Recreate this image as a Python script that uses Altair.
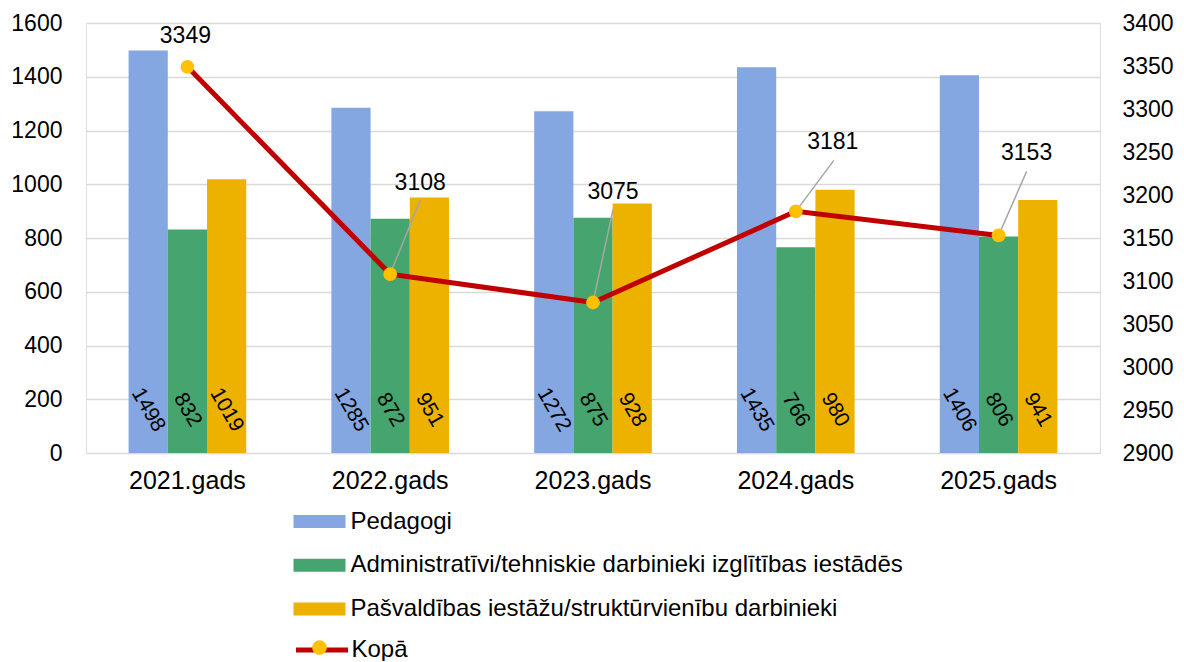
import altair as alt
import pandas as pd

# ---- data ----
years = ["2021.gads", "2022.gads", "2023.gads", "2024.gads", "2025.gads"]
series = [
    "Pedagogi",
    "Administratīvi/tehniskie darbinieki izglītības iestādēs",
    "Pašvaldības iestāžu/struktūrvienību darbinieki",
]
pedagogi = [1498, 1285, 1272, 1435, 1406]
admin = [832, 872, 875, 766, 806]
pasv = [1019, 951, 928, 980, 941]
kopa = [3349, 3108, 3075, 3181, 3153]
line_name = "Kopā"
left_ticks = [0, 200, 400, 600, 800, 1000, 1200, 1400, 1600]
right_ticks = [2900, 2950, 3000, 3050, 3100, 3150, 3200, 3250, 3300, 3350, 3400]

# ---- styles ----
bar_colors = ["#84A7E1", "#46A46F", "#EDB100"]
line_color = "#C00000"
marker_color = "#FFC000"
FONT = "Liberation Sans"
# annotation placement for the total labels (pixel offsets from the point)
label_offsets = [(-2, -31, None, None), (30, -91, 30, -74), (20, -111, 20, -93),
                 (37, -69, 38, -51), (28, -82, 28, -64)]

rows = []
for s, vals in zip(series, [pedagogi, admin, pasv]):
    for yr, v in zip(years, vals):
        rows.append({"year": yr, "series": s, "value": v})
bars_df = pd.DataFrame(rows)
tot_df = pd.DataFrame({"year": years, "total": kopa, "k1": line_name, "k2": line_name})

x_enc = alt.X(
    "year:N", sort=years,
    scale=alt.Scale(paddingInner=0.42, paddingOuter=0.21),
    axis=alt.Axis(title=None, labelAngle=0, labelFontSize=25, labelPadding=15,
                  ticks=False, domain=False, labelColor="#000000", labelFont=FONT),
)
xoff = alt.XOffset("series:N", sort=series, scale=alt.Scale(paddingInner=0, paddingOuter=0))

y_left = alt.Y(
    "value:Q",
    scale=alt.Scale(domain=[0, 1600], nice=False),
    axis=alt.Axis(title=None, orient="left", values=left_ticks, format="d",
                  labelFontSize=23, labelPadding=24, ticks=False, domain=False,
                  gridColor="#D9D9D9", gridWidth=1.3, labelColor="#000000",
                  labelFont=FONT),
)

rect_path = "M-1.6,-0.4H1.6V0.4H-1.6Z"
bars = alt.Chart(bars_df).mark_bar().encode(
    x=x_enc, xOffset=xoff, y=y_left,
    color=alt.Color(
        "series:N", sort=series,
        scale=alt.Scale(domain=series, range=bar_colors),
        legend=alt.Legend(title=None, orient="none", legendX=217, legendY=482,
                          direction="vertical", symbolType=rect_path, symbolSize=1056,
                          symbolStrokeWidth=0, labelFontSize=24, labelOffset=14.5,
                          rowPadding=14.7, padding=0, labelLimit=1000,
                          labelColor="#000000", labelFont=FONT),
    ),
)
bar_text = alt.Chart(bars_df).mark_text(
    angle=60, fontSize=21, yOffset=-43, align="center", baseline="middle",
    color="#000000", font=FONT,
).encode(
    x=alt.X("year:N", sort=years), xOffset=xoff, y=alt.datum(0),
    text=alt.Text("value:Q", format="d"),
)
left_layer = alt.layer(bars, bar_text)

y_right = alt.Y(
    "total:Q",
    scale=alt.Scale(domain=[2900, 3400], nice=False, zero=False),
    axis=alt.Axis(title=None, orient="right", values=right_ticks, format="d",
                  grid=False, labelFontSize=23, labelPadding=22, ticks=False,
                  domain=False, labelColor="#000000", labelFont=FONT),
)
x_simple = alt.X("year:N", sort=years)

line = alt.Chart(tot_df).mark_line(strokeWidth=5).encode(
    x=x_simple, y=y_right,
    stroke=alt.Stroke(
        "k1:N", scale=alt.Scale(range=[line_color]),
        legend=alt.Legend(title=None, orient="none", legendX=217, legendY=608,
                          direction="vertical", symbolType="M-1.6,0H1.6",
                          symbolSize=1056, symbolStrokeWidth=5, labelFontSize=24,
                          labelOffset=10.5, padding=0, labelColor="#000000",
                          labelFont=FONT),
    ),
)

rule_layers = []
text_layers = []
for yr, (dx, dy, ldx, ldy) in zip(years, label_offsets):
    if ldx is not None:
        rule_layers.append(
            alt.Chart(tot_df).transform_filter(alt.datum.year == yr)
            .mark_rule(color="#A6A6A6", strokeWidth=1.5, x2Offset=ldx, y2Offset=ldy)
            .encode(x=x_simple, x2="year:N", y=y_right, y2="total:Q")
        )
    text_layers.append(
        alt.Chart(tot_df).transform_filter(alt.datum.year == yr)
        .mark_text(xOffset=dx, yOffset=dy, fontSize=23, align="center",
                   baseline="middle", color="#000000", font=FONT)
        .encode(x=x_simple, y=y_right, text=alt.Text("total:Q", format="d"))
    )

points = alt.Chart(tot_df).mark_circle(size=190, opacity=1, strokeWidth=0).encode(
    x=x_simple, y=y_right,
    fill=alt.Fill(
        "k2:N", scale=alt.Scale(range=[marker_color]),
        legend=alt.Legend(title=None, orient="none", legendX=217, legendY=608,
                          direction="vertical",
                          symbolType="M-0.45,0A0.45,0.45,0,1,1,0.45,0A0.45,0.45,0,1,1,-0.45,0Z",
                          symbolSize=1056, symbolStrokeWidth=0, labelFontSize=24,
                          labelOffset=10.5, padding=0, labelExpr="''",
                          labelFont=FONT),
    ),
)

right_layer = alt.layer(line, *rule_layers, points, *text_layers)

chart = alt.layer(left_layer, right_layer).resolve_scale(y="independent").properties(
    width=1014, height=430,
    autosize=alt.AutoSizeParams(type="none"),
    padding={"left": 78, "top": 15, "right": 76, "bottom": 208},
).configure_view(stroke=None).configure(font=FONT)

chart.save("out.html", embed_options={"renderer": "svg", "actions": False})
